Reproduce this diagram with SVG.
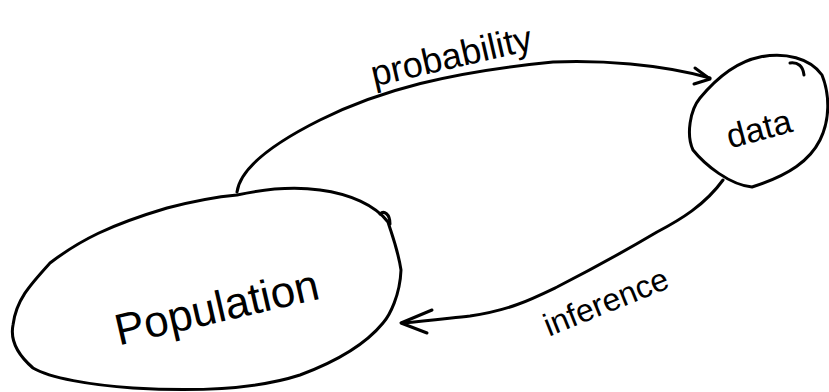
<svg xmlns="http://www.w3.org/2000/svg" width="829" height="392" viewBox="0 0 829 392">
<style>
.ink{fill:none;stroke:#000;stroke-width:3;stroke-linecap:round;stroke-linejoin:round}
.lbl{font-family:"Liberation Sans",Arial,sans-serif;fill:#000}
</style>
<rect width="829" height="392" fill="#fff"/>
<g id="connectors">
<path class="ink" d="M237,192 C240,170 270,145 320,120 C380,90 450,72 553,62 C600,60 660,64 710,78"/>
<path class="ink" d="M695,68 L710,79 L694,84"/>
<path class="ink" d="M723,180 C705,205 680,220 657,232 C630,248 600,265 557,287 C530,300 510,310 470,316 C450,318 430,321 402,323"/>
<path class="ink" d="M432,310 L401,323 L427,333"/>
<text class="lbl" font-size="36" transform="translate(454,68) rotate(-13)" text-anchor="middle">probability</text>
<text class="lbl" font-size="32" transform="translate(610,312) rotate(-22)" text-anchor="middle">inference</text>
</g>
<g id="population">
<path class="ink" d="M237,195 C260,190 290,186 320,190 C350,194 375,205 388,222 C392,235 398,250 401,270 C400,295 390,315 383,323 C365,345 335,362 300,375 C260,388 200,392 133,388 C90,385 50,378 33,368 C18,355 10,340 13,325 C16,300 30,285 50,263 C80,240 110,225 167,208 C190,202 215,197 237,195 Z"/>
<path class="ink" d="M380,214 C384,210 390,214 390,224"/>
<text class="lbl" font-size="44" transform="translate(220,322) rotate(-13)" text-anchor="middle">Population</text>
</g>
<g id="data">
<path class="ink" d="M760,57 C785,52 810,58 822,75 C830,95 830,120 820,140 C810,160 790,175 752,187 C730,185 705,165 693,150 C686,135 690,110 700,98 C715,80 735,62 760,57 Z"/>
<path class="ink" d="M790,63 C798,62 803,66 804,75"/>
<text class="lbl" font-size="34" transform="translate(762,140) rotate(-15)" text-anchor="middle">data</text>
</g>
</svg>
